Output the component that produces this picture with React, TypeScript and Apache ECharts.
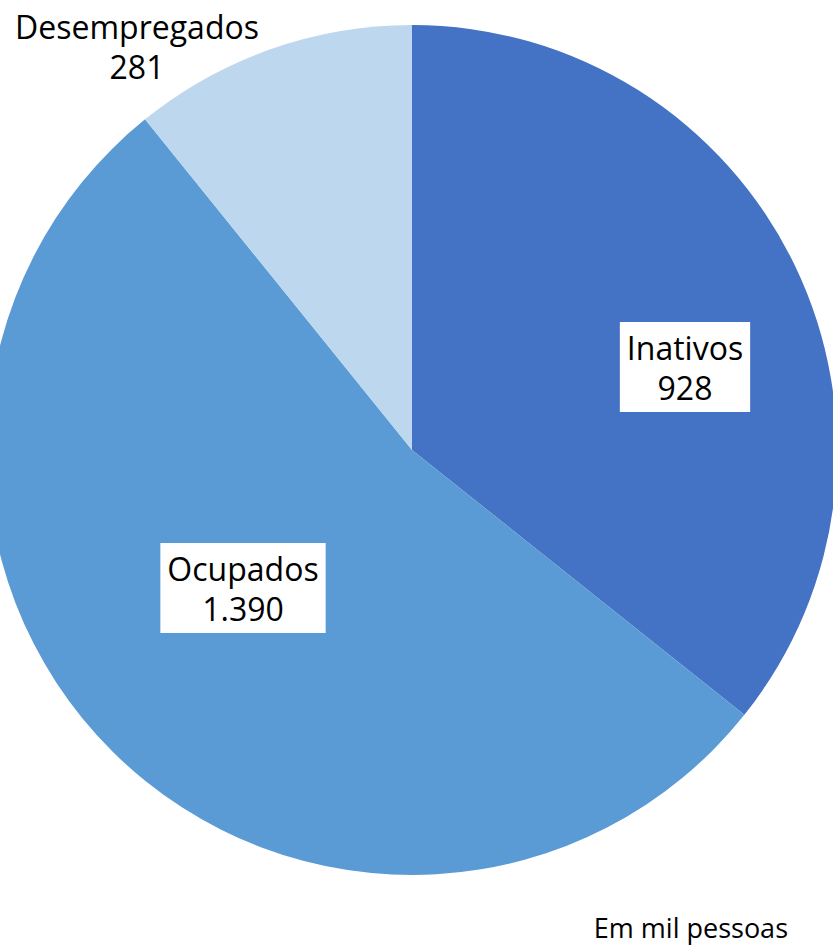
import React, { useEffect, useRef } from "react";
import * as echarts from "echarts";

const categories = ["Inativos", "Ocupados", "Desempregados"];
const values = [928, 1390, 281];
const colors = ["#4472C4", "#5B9BD5", "#BDD7EE"];
const labelCenters = [
  [685, 367],
  [243, 588],
  [137, 46],
];
const boxed = [true, true, false];
const footnote = "Em mil pessoas";

const fmt = (v: number) => String(v).replace(/\B(?=(\d{3})+(?!\d))/g, ".");

const FONT = "'Open Sans', 'Noto Sans', sans-serif";

export default function App() {
  const ref = useRef<HTMLDivElement>(null);
  useEffect(() => {
    if (!ref.current) return;
    const chart = echarts.init(ref.current, undefined, { renderer: "svg" });
    chart.setOption({
      animation: false,
      backgroundColor: "#ffffff",
      textStyle: { fontFamily: FONT },
      series: [
        {
          type: "pie",
          center: [412, 450],
          radius: [0, 425],
          startAngle: 90,
          clockwise: true,
          silent: true,
          itemStyle: { borderWidth: 0 },
          labelLine: { show: false },
          data: categories.map((c, i) => ({
            name: c,
            value: values[i],
            itemStyle: { color: colors[i] },
            label: {
              show: true,
              position: "inside",
              formatter: (p: any) => `${p.name}\n${fmt(p.value)}`,
              color: "#000000",
              fontFamily: FONT,
              fontSize: 32,
              lineHeight: 40,
              align: "center",
              backgroundColor: boxed[i] ? "#ffffff" : "transparent",
              padding: boxed[i] ? [6, 7, 4, 7] : 0,
            },
          })),
          labelLayout: (params: any) => {
            const pos = labelCenters[params.dataIndex];
            return {
              x: pos[0],
              y: pos[1],
              align: "center",
              verticalAlign: "middle",
            };
          },
        },
      ],
      graphic: [
        {
          type: "text",
          style: {
            text: footnote,
            x: 788,
            y: 927,
            align: "right",
            verticalAlign: "middle",
            fontFamily: FONT,
            fontSize: 27,
            fill: "#000000",
          },
        },
      ],
    });
    return () => chart.dispose();
  }, []);
  return (
    <div
      ref={ref}
      style={{ position: "absolute", left: 0, top: 0, width: 833, height: 947 }}
    />
  );
}
